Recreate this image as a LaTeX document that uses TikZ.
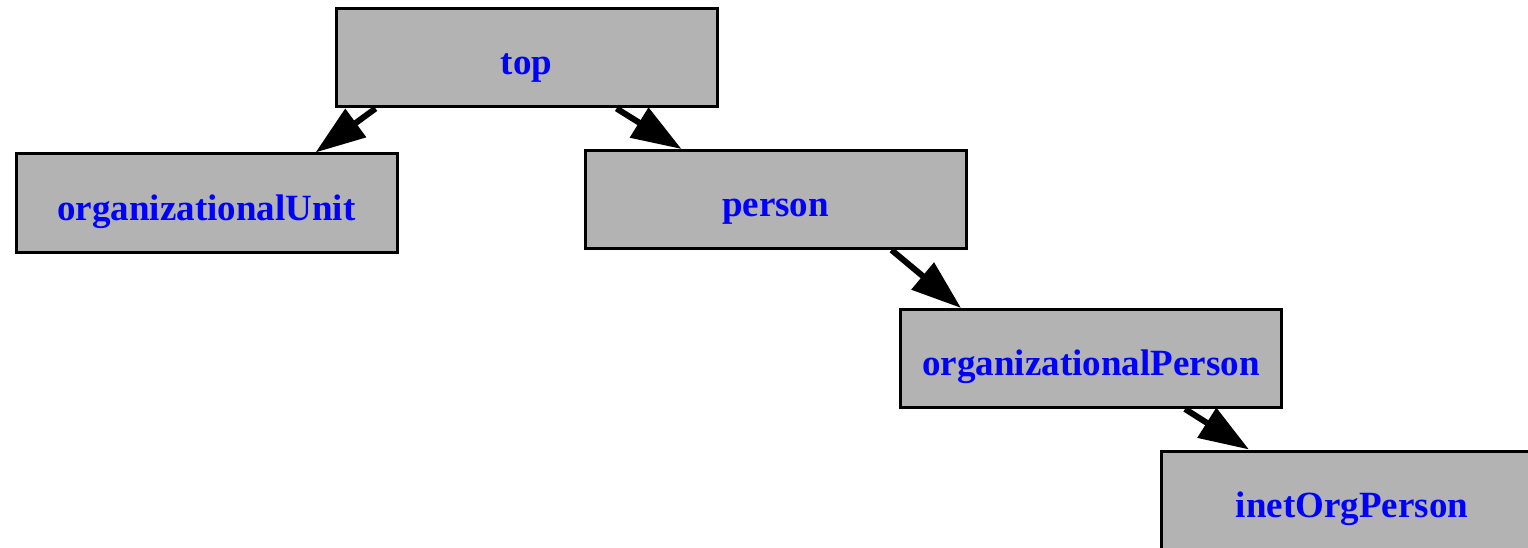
\documentclass[tikz,border=0pt]{standalone}
\usepackage{fontspec}
\setmainfont{Liberation Serif}
\usetikzlibrary{arrows.meta}
\definecolor{boxgray}{RGB}{179,179,179}
\definecolor{txtblue}{RGB}{0,0,255}
\begin{document}
\begin{tikzpicture}[x=1pt,y=-1pt,
  cls/.style={draw=black, line width=3pt, fill=boxgray, minimum width=381pt, minimum height=98pt,
    inner sep=0pt, text=txtblue, text height=34pt, text depth=0pt, font=\fontsize{37}{42}\selectfont\bfseries},
  edge/.style={line width=6pt, -{Triangle[length=50pt,width=34pt]}}]
\useasboundingbox (0,0) rectangle (1528,548);
\begin{scope}
\clip (0,0) rectangle (1528,548);
\node[cls] (top) at (526.5,58) {top};
\node[cls] (ou) at (206.5,203) {organizationalUnit};
\node[cls] (person) at (775.5,199.5) {person};
\node[cls] (op) at (1091,358.5) {organizationalPerson};
\node[cls] (inet) at (1352,500) {inetOrgPerson};
\draw[edge] ([xshift=41pt]top.south west) -- ([xshift=301pt]ou.north west);
\draw[edge] ([xshift=282pt]top.south west) -- ([xshift=98pt]person.north west);
\draw[edge] ([xshift=308pt]person.south west) -- ([xshift=62pt]op.north west);
\draw[edge] ([xshift=286pt]op.south west) -- ([xshift=89pt]inet.north west);
\end{scope}
\end{tikzpicture}
\end{document}
